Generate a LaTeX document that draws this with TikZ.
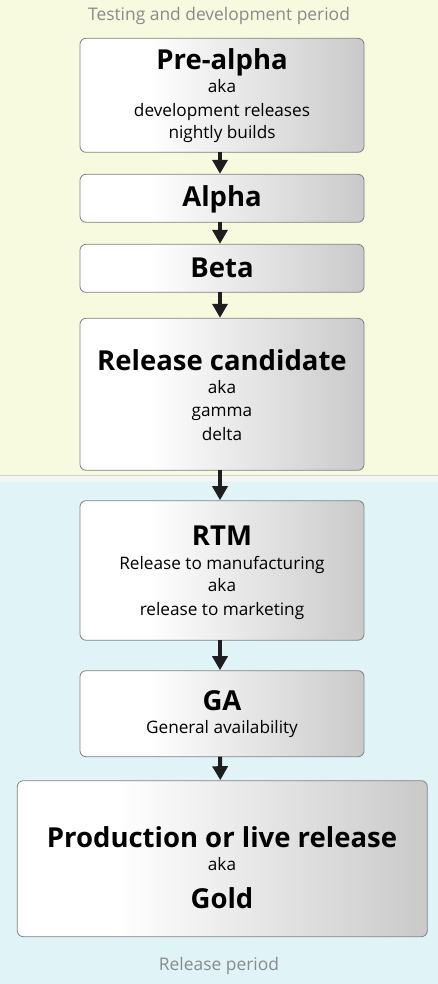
\documentclass[tikz,border=0pt]{standalone}
\usepackage{fontspec}
\setmainfont{Open Sans}
\usetikzlibrary{arrows.meta}
\definecolor{bgyellow}{RGB}{248,250,224}
\definecolor{bgblue}{RGB}{224,244,248}
\definecolor{bgstrip}{RGB}{244,246,246}
\definecolor{stripline}{RGB}{208,212,212}
\definecolor{labelgray}{RGB}{138,138,138}
\definecolor{boxborder}{RGB}{130,130,130}
\definecolor{arrowcol}{RGB}{30,30,30}
\pgfdeclarehorizontalshading{boxgrad}{100bp}{color(0bp)=(white); color(25bp)=(white); color(37bp)=(white); color(75bp)=(black!21); color(100bp)=(black!21)}
\newcommand\titlefont{\bfseries\fontsize{27.5}{27.5}\selectfont}
\newcommand\smallfont{\fontsize{17.2}{17.2}\selectfont}
\newcommand\periodfont{\fontsize{17.4}{17.4}\selectfont}
\tikzset{
  stagebox/.style={draw=boxborder, line width=0.8pt, rounded corners=6pt, shading=boxgrad, anchor=north west, inner sep=0pt, outer sep=0pt},
  flow/.style={draw=arrowcol, line width=4pt, -{Triangle[width=15pt,length=14pt]}, shorten >=0.5pt},
  ttl/.style={anchor=base, inner sep=0pt, font=\titlefont, text=black},
  sub/.style={anchor=base, inner sep=0pt, font=\smallfont, text=black},
  period/.style={anchor=base, inner sep=0pt, font=\periodfont, text=labelgray}
}
\begin{document}
\begin{tikzpicture}[x=1pt,y=-1pt]
\useasboundingbox (0,0) rectangle (438,984);
% backgrounds
\fill[bgyellow] (0,0) rectangle (438,475.5);
\fill[bgstrip] (0,475.5) rectangle (438,481.5);
\fill[bgblue] (0,481.5) rectangle (438,984);
\draw[stripline, line width=0.8pt] (0,475.8) -- (438,475.8);
% period labels
\node[period] (lbltop) at (219,20.7) {Testing and development period};
\node[period] (lblbot) at (219,970.7) {Release period};
% boxes
\node[stagebox, minimum width=284pt, minimum height=114pt] (pre) at (80,38.3) {};
\node[stagebox, minimum width=284pt, minimum height=48pt] (alpha) at (80,174.3) {};
\node[stagebox, minimum width=284pt, minimum height=48pt] (beta) at (80,244.3) {};
\node[stagebox, minimum width=284pt, minimum height=152pt] (rc) at (80,318.3) {};
\node[stagebox, minimum width=284pt, minimum height=139.5pt] (rtm) at (80,500.7) {};
\node[stagebox, minimum width=284pt, minimum height=86pt] (ga) at (80,670.7) {};
\node[stagebox, minimum width=410pt, minimum height=156pt] (prod) at (17.3,780.7) {};
% texts
\node[ttl] (preT) at (222,70) {Pre-alpha};
\node[sub] (preA) at (222,93) {aka};
\node[sub] (preB) at (222,117) {development releases};
\node[sub] (preC) at (222,138.5) {nightly builds};
\node[ttl] (alphaT) at (222,206.5) {Alpha};
\node[ttl] (betaT) at (222,277.3) {Beta};
\node[ttl] (rcT) at (222,370) {Release candidate};
\node[sub] (rcA) at (222,393) {aka};
\node[sub] (rcB) at (222,416.5) {gamma};
\node[sub] (rcC) at (222,440) {delta};
\node[ttl] (rtmT) at (222,545) {RTM};
\node[sub] (rtmA) at (222,569) {Release to manufacturing};
\node[sub] (rtmB) at (222,591.7) {aka};
\node[sub] (rtmC) at (222,615) {release to marketing};
\node[ttl] (gaT) at (222,710.7) {GA};
\node[sub] (gaA) at (222,733) {General availability};
\node[ttl] (prodT) at (222,847.3) {Production or live release};
\node[sub] (prodA) at (222,870.7) {aka};
\node[ttl] (prodB) at (222,908.3) {Gold};
% arrows
\draw[flow] ([xshift=-2pt]pre.south) -- ([xshift=-2pt]alpha.north);
\draw[flow] ([xshift=-2pt]alpha.south) -- ([xshift=-2pt]beta.north);
\draw[flow] ([xshift=-2pt]beta.south) -- ([xshift=-2pt]rc.north);
\draw[flow] ([xshift=-2pt]rc.south) -- ([xshift=-2pt]rtm.north);
\draw[flow] ([xshift=-2pt]rtm.south) -- ([xshift=-2pt]ga.north);
\draw[flow] ([xshift=-2pt]ga.south) -- ([xshift=-2pt]prod.north);
\end{tikzpicture}
\end{document}
